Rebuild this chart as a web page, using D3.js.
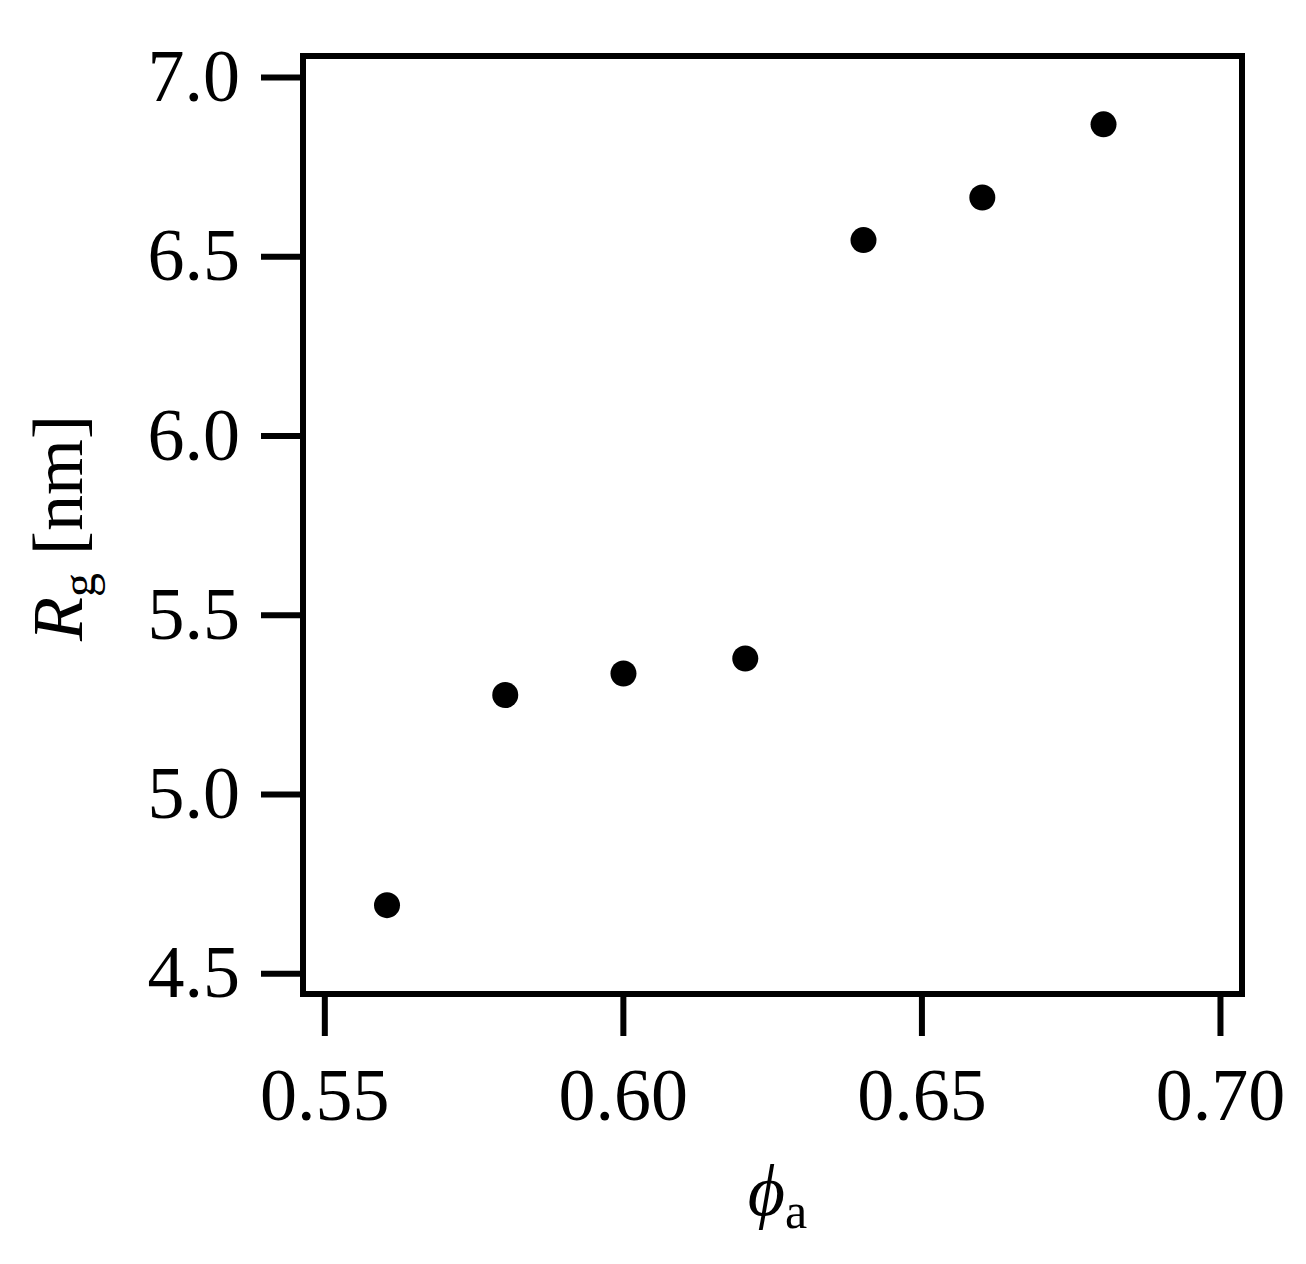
<!DOCTYPE html>
<html>
<head>
<meta charset="utf-8">
<script src="https://cdn.jsdelivr.net/npm/d3@7"></script>
<style>
  body { margin: 0; background: #fff; }
  text { font-family: "Liberation Serif", "Times New Roman", serif; fill: #000; }
</style>
</head>
<body>
<script>
// volume fraction vs radius of gyration
const phiA = [0.5605, 0.5803, 0.6001, 0.6205, 0.6403, 0.6602, 0.6805];
const rg = [4.690, 5.276, 5.336, 5.378, 6.545, 6.664, 6.868];
const xTicks = [0.55, 0.60, 0.65, 0.70];
const yTicks = [4.5, 5.0, 5.5, 6.0, 6.5, 7.0];

const W = 1306, H = 1264;
const margin = {left: 303, top: 56, right: 64, bottom: 270};
const w = W - margin.left - margin.right;
const h = H - margin.top - margin.bottom;

const svg = d3.select("body").append("svg")
    .attr("width", W)
    .attr("height", H);

const g = svg.append("g")
    .attr("transform", "translate(" + margin.left + "," + margin.top + ")");

const x = d3.scaleLinear().domain([0.54643, 0.70369]).range([0, w]);
const y = d3.scaleLinear().domain([4.4421, 7.0586]).range([h, 0]);

const tickLen = 42;

const xAxis = g.append("g")
    .attr("transform", "translate(0," + h + ")")
    .call(d3.axisBottom(x).tickValues(xTicks).tickSize(tickLen).tickFormat(d3.format(".2f")));

const yAxis = g.append("g")
    .call(d3.axisLeft(y).tickValues(yTicks).tickSize(tickLen).tickPadding(21).tickFormat(d3.format(".1f")));

[xAxis, yAxis].forEach(a => {
    a.select(".domain").remove();
    a.selectAll(".tick line").attr("stroke", "#000").attr("stroke-width", 6);
    a.selectAll(".tick text")
        .style("font-family", '"Liberation Serif", serif')
        .style("font-size", "74px")
        .attr("fill", "#000");
});
xAxis.selectAll(".tick text").attr("y", 126).attr("dy", 0);

// frame
g.append("rect")
    .attr("x", 0).attr("y", 0)
    .attr("width", w).attr("height", h)
    .attr("fill", "none")
    .attr("stroke", "#000")
    .attr("stroke-width", 6);

g.selectAll("circle.pt")
    .data(phiA.map((p, i) => [p, rg[i]]))
    .enter().append("circle")
    .attr("class", "pt")
    .attr("cx", d => x(d[0]))
    .attr("cy", d => y(d[1]))
    .attr("r", 13)
    .attr("fill", "#000");

// y label
const yl = svg.append("text")
    .attr("transform", "translate(82," + (margin.top + h / 2 + 3) + ") rotate(-90)")
    .attr("text-anchor", "middle")
    .style("font-size", "72px");
yl.append("tspan").style("font-style", "italic").text("R");
yl.append("tspan").style("font-size", "48px").attr("dy", 13).text("g");
yl.append("tspan").attr("dy", -13).text(" [nm]");

// x label
const xl = svg.append("text")
    .attr("x", margin.left + w / 2 + 5)
    .attr("y", 1215)
    .attr("text-anchor", "middle")
    .style("font-size", "72px");
xl.append("tspan").style("font-style", "italic").text("ϕ");
xl.append("tspan").style("font-size", "50px").attr("dy", 13).text("a");
</script>
</body>
</html>
